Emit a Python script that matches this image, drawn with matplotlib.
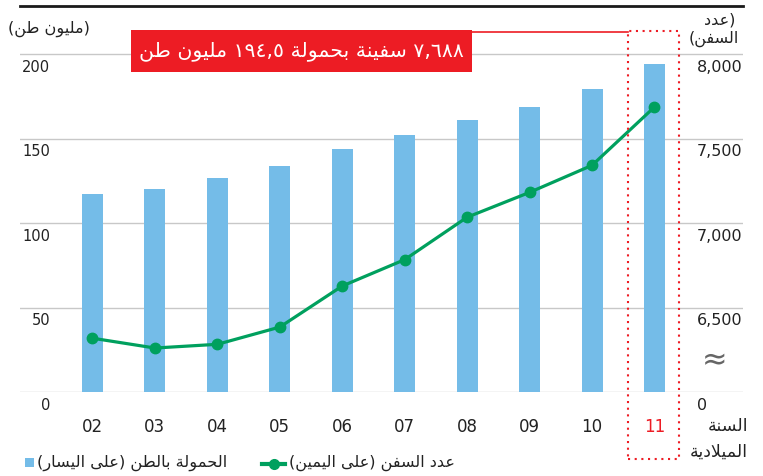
import matplotlib
matplotlib.use('Agg')
import matplotlib.pyplot as plt
import matplotlib.transforms as mtrans
from matplotlib.patches import Rectangle
from matplotlib.lines import Line2D
import numpy as np

# data
years = ['02', '03', '04', '05', '06', '07', '08', '09', '10', '11']
tonnage = [117.3, 120.3, 126.8, 133.9, 144.0, 152.2, 161.1, 168.8, 179.5, 194.5]   # million tons, left axis
ships = [6320, 6262, 6284, 6386, 6629, 6785, 7036, 7183, 7343, 7688]             # number of ships, right axis
left_ticks = [0, 50, 100, 150, 200]
right_ticks = [6000, 6500, 7000, 7500, 8000]
right_labels = ['0', '6,500', '7,000', '7,500', '8,000']

title_text = '٧,٦٨٨ سفينة بحمولة ١٩٤,٥ مليون طن'
left_unit = '(مليون طن)'
right_unit = ['(عدد', 'السفن)']
xaxis_name = ['السنة', 'الميلادية']
legend_bar = 'الحمولة بالطن (على اليسار)'
legend_line = 'عدد السفن (على اليمين)'

BLUE = '#74BCE8'
GREEN = '#00A05E'
RED = '#ED1C24'
GRID = '#C8C8C8'
DARK = '#222222'

# --- small arabic shaper (matplotlib does no shaping / bidi) ---
FORMS = {
    'ا': ('\uFE8D', '\uFE8E', None, None),
    'ب': ('\uFE8F', '\uFE90', '\uFE91', '\uFE92'),
    'ة': ('\uFE93', '\uFE94', None, None),
    'ح': ('\uFEA1', '\uFEA2', '\uFEA3', '\uFEA4'),
    'د': ('\uFEA9', '\uFEAA', None, None),
    'ر': ('\uFEAD', '\uFEAE', None, None),
    'س': ('\uFEB1', '\uFEB2', '\uFEB3', '\uFEB4'),
    'ط': ('\uFEC1', '\uFEC2', '\uFEC3', '\uFEC4'),
    'ع': ('\uFEC9', '\uFECA', '\uFECB', '\uFECC'),
    'ف': ('\uFED1', '\uFED2', '\uFED3', '\uFED4'),
    'ل': ('\uFEDD', '\uFEDE', '\uFEDF', '\uFEE0'),
    'م': ('\uFEE1', '\uFEE2', '\uFEE3', '\uFEE4'),
    'ن': ('\uFEE5', '\uFEE6', '\uFEE7', '\uFEE8'),
    'و': ('\uFEED', '\uFEEE', None, None),
    'ى': ('\uFEEF', '\uFEF0', None, None),
    'ي': ('\uFEF1', '\uFEF2', '\uFEF3', '\uFEF4'),
}


def dual(c):
    return c in FORMS and FORMS[c][2] is not None


def shape(s):
    out = []
    i = 0
    while i < len(s):
        c = s[i]
        if c not in FORMS:
            out.append(c)
            i += 1
            continue
        prev = s[i - 1] if i > 0 else ''
        nxt = s[i + 1] if i + 1 < len(s) else ''
        jp = dual(prev)
        if c == 'ل' and nxt == 'ا':
            out.append('\uFEFC' if jp else '\uFEFB')
            i += 2
            continue
        jn = dual(c) and nxt in FORMS
        if jp and jn:
            k = 3
        elif jp:
            k = 1
        elif jn:
            k = 2
        else:
            k = 0
        out.append(FORMS[c][k])
        i += 1
    return out


def ar(s):
    digits = set('0123456789٠١٢٣٤٥٦٧٨٩,.')
    toks = []
    for ch in shape(s):
        if ch in digits and toks and toks[-1][0] in digits:
            toks[-1] += ch
        else:
            toks.append(ch)
    mirror = {'(': ')', ')': '('}
    return ''.join(mirror.get(t, t) for t in reversed(toks))


W, H = 763, 476
fig = plt.figure(figsize=(W / 100, H / 100), dpi=100)
plt.rcParams['font.family'] = ['DejaVu Sans']

ax_bottom, ax_top = 392.3, 5.7
ax = fig.add_axes([20 / W, 1 - ax_bottom / H, 723 / W, (ax_bottom - ax_top) / H])
ymax = (ax_bottom - ax_top) / 1.69
x = np.arange(len(years))

ax.bar(x, tonnage, width=0.336, color=BLUE, zorder=2)
ax.set_xlim(-1.161, 10.418)
ax.set_ylim(0, ymax)
ax.set_yticks(left_ticks)
ax.yaxis.grid(True, color=GRID, lw=1)
ax.set_axisbelow(True)
ax.tick_params(length=0, labelleft=False, labelbottom=False)
ax.set_xticks([])
for s in ['left', 'right', 'bottom']:
    ax.spines[s].set_visible(False)
ax.spines['top'].set_color('#1a1a1a')
ax.spines['top'].set_linewidth(2)

ax2 = ax.twinx()
ax2.set_ylim(6000, 6000 + ymax * 10)
ax2.plot(x, ships, color=GREEN, lw=2.3, marker='o', ms=7.5, zorder=3)
ax2.set_yticks([])
for s in ax2.spines.values():
    s.set_visible(False)

# tick labels sitting just under their gridlines
tl = mtrans.offset_copy(ax.get_yaxis_transform(), fig=fig, y=-17.4, units='dots')
for v in left_ticks:
    ax.text((50 - 20) / 723, v, str(v), transform=tl, ha='right', va='baseline',
            fontsize=10.5, color=DARK)
tr = mtrans.offset_copy(ax2.get_yaxis_transform(), fig=fig, y=-17.4, units='dots')
for v, lab in zip(right_ticks, right_labels):
    ax2.text((697 - 20) / 723, v, lab, transform=tr, ha='left', va='baseline',
             fontsize=11.5, color=DARK)

tx = mtrans.offset_copy(ax.get_xaxis_transform(), fig=fig, y=-40, units='dots')
for xi, lab in zip(x, years):
    ax.text(xi, 0, lab, transform=tx, ha='center', va='baseline', fontsize=12,
            color=RED if lab == '11' else DARK)


def px(xp, yp):
    return xp / W, 1 - yp / H


fig.canvas.draw()
renderer = fig.canvas.get_renderer()


def fit(t, width):
    # scale the font so that the arabic text is as wide as in the original
    w = t.get_window_extent(renderer).width
    t.set_fontsize(t.get_fontsize() * width / w)
    return t


# axis-break sign
fig.text(*px(715, 361), '≈', fontsize=22, color='#666666', ha='center', va='center')

# units
fit(fig.text(*px(8, 29), ar(left_unit), fontsize=12, color=DARK, ha='left', va='center'), 82)
fig.text(*px(735, 20), ar(right_unit[0]), fontsize=11.5, color=DARK, ha='right', va='center')
fig.text(*px(739, 39), ar(right_unit[1]), fontsize=11.5, color=DARK, ha='right', va='center')
fig.text(*px(748, 426), ar(xaxis_name[0]), fontsize=12.5, color=DARK, ha='right', va='center')
fig.text(*px(748, 452), ar(xaxis_name[1]), fontsize=12.5, color=DARK, ha='right', va='center')

# highlight box for 2011
fig.add_artist(Rectangle(px(628.3, 459.3), 51 / W, (459.3 - 31) / H, fill=False,
                         ec=RED, lw=1.5, ls=(0, (1, 2.2)), transform=fig.transFigure))
fig.add_artist(Line2D([471 / W, 628.3 / W], [1 - 31.5 / H] * 2, color=RED, lw=1.2,
                      transform=fig.transFigure))
fig.add_artist(Rectangle(px(131, 71.7), (471.7 - 131) / W, (71.7 - 30) / H,
                         fc=RED, ec='none', transform=fig.transFigure))
fit(fig.text(*px(301.5, 51), ar(title_text), fontsize=19, color='white',
             ha='center', va='center'), 324)

# legend drawn by hand
fig.add_artist(Rectangle(px(25, 467), 8.5 / W, 9 / H, fc=BLUE, ec='none',
                         transform=fig.transFigure))
fit(fig.text(*px(227, 463), ar(legend_bar), fontsize=12, color=DARK, ha='right', va='center'), 190)
fig.add_artist(Line2D([262 / W, 285 / W], [1 - 464 / H] * 2, color=GREEN, lw=3,
                      transform=fig.transFigure))
fig.add_artist(Line2D([273.5 / W], [1 - 464 / H], color=GREEN, marker='o', ms=7,
                      transform=fig.transFigure))
fit(fig.text(*px(455, 463), ar(legend_line), fontsize=12, color=DARK, ha='right', va='center'), 165)

fig.savefig('out.png', dpi=100)
